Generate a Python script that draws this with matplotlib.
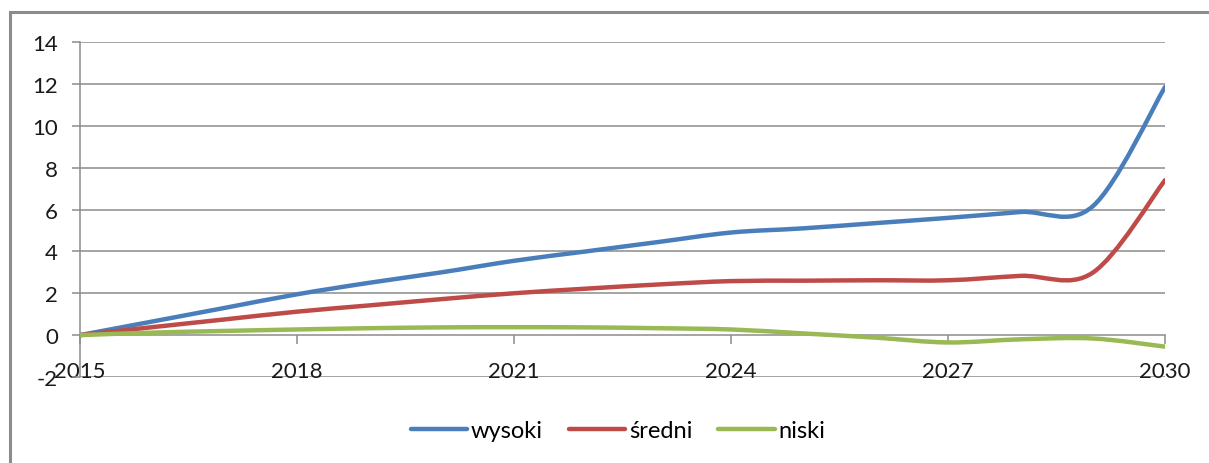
import numpy as np
import matplotlib
matplotlib.use('Agg')
import matplotlib.pyplot as plt
from matplotlib.path import Path
from matplotlib.patches import PathPatch, Rectangle
from matplotlib.lines import Line2D

plt.rcParams['font.family'] = ['Lato', 'DejaVu Sans']
plt.rcParams['axes.unicode_minus'] = False

YEARS = list(range(2015, 2031))
TICK_YEARS = [2015, 2018, 2021, 2024, 2027, 2030]
WYSOKI = [0.0, 0.65, 1.3, 1.95, 2.5, 3.0, 3.55, 4.0, 4.45, 4.9, 5.1, 5.35, 5.6, 5.88, 6.15, 11.85]
SREDNI = [0.0, 0.38, 0.75, 1.12, 1.42, 1.72, 2.0, 2.22, 2.42, 2.58, 2.6, 2.62, 2.62, 2.83, 2.98, 7.4]
NISKI = [0.0, 0.12, 0.2, 0.27, 0.33, 0.37, 0.38, 0.37, 0.33, 0.27, 0.08, -0.12, -0.35, -0.2, -0.16, -0.55]

SERIES = [
    ('wysoki', WYSOKI, '#4A7EBB'),
    ('średni', SREDNI, '#BE4B48'),
    ('niski', NISKI, '#98B954'),
]


def smooth_path(xs, ys):
    # excel style smoothed line: bezier segments, control points from neighbours
    xs = np.asarray(xs, float)
    ys = np.asarray(ys, float)
    n = len(xs)
    verts = [(xs[0], ys[0])]
    codes = [Path.MOVETO]
    for i in range(n - 1):
        p0 = np.array([xs[i], ys[i]])
        p1 = np.array([xs[i + 1], ys[i + 1]])
        pm = np.array([xs[i - 1], ys[i - 1]]) if i > 0 else p0
        pp = np.array([xs[i + 2], ys[i + 2]]) if i + 2 < n else p1
        c1 = p0 + (p1 - pm) / 6.0
        c2 = p1 - (pp - p0) / 6.0
        verts += [tuple(c1), tuple(c2), tuple(p1)]
        codes += [Path.CURVE4] * 3
    return Path(verts, codes)


fig = plt.figure(figsize=(12.09, 4.64), dpi=100)
fig.patches.append(Rectangle((10 / 1209, -0.1), 1.2, 1 - 13 / 464 + 0.1,
                             transform=fig.transFigure, fill=False,
                             edgecolor='#8C8C8C', linewidth=2.2))

ax = fig.add_axes([80 / 1209, 1 - 378 / 464, (1165 - 80) / 1209, (378 - 43) / 464])

handles = []
for name, vals, col in SERIES:
    patch = PathPatch(smooth_path(YEARS, vals), facecolor='none', edgecolor=col,
                      linewidth=3.2, capstyle='round', joinstyle='round', zorder=3)
    ax.add_patch(patch)
    handles.append(Line2D([], [], color=col, linewidth=3.2, solid_capstyle='round', label=name))

ax.set_xlim(2015, 2030)
ax.set_ylim(-2, 14)
ax.set_yticks(range(-2, 15, 2))
ax.set_xticks(TICK_YEARS)
ax.set_xticklabels([str(y) for y in TICK_YEARS])

for y in range(-2, 15, 2):
    if y != 0:
        ax.axhline(y, color='#8C8C8C', linewidth=1.1, zorder=1)

ax.spines['top'].set_visible(False)
ax.spines['right'].set_visible(False)
ax.spines['left'].set_color('#8C8C8C')
ax.spines['bottom'].set_color('#8C8C8C')
ax.spines['left'].set_linewidth(1.1)
ax.spines['bottom'].set_linewidth(1.1)
ax.spines['bottom'].set_position(('data', 0))
ax.spines['bottom'].set_zorder(1)

ax.tick_params(axis='y', direction='out', length=6, width=1.1, color='#8C8C8C',
               labelsize=16, pad=10, labelcolor='#1A1A1A')
ax.tick_params(axis='x', direction='out', length=6.5, width=1.1, color='#8C8C8C',
               labelsize=16, pad=12, labelcolor='#1A1A1A')

fig.legend(handles=handles, loc='center', bbox_to_anchor=(618 / 1209, 1 - 432 / 464),
           ncol=3, frameon=False, fontsize=17, handlelength=2.4, handletextpad=0.15,
           columnspacing=1.1)

fig.savefig('out.png', dpi=100)
